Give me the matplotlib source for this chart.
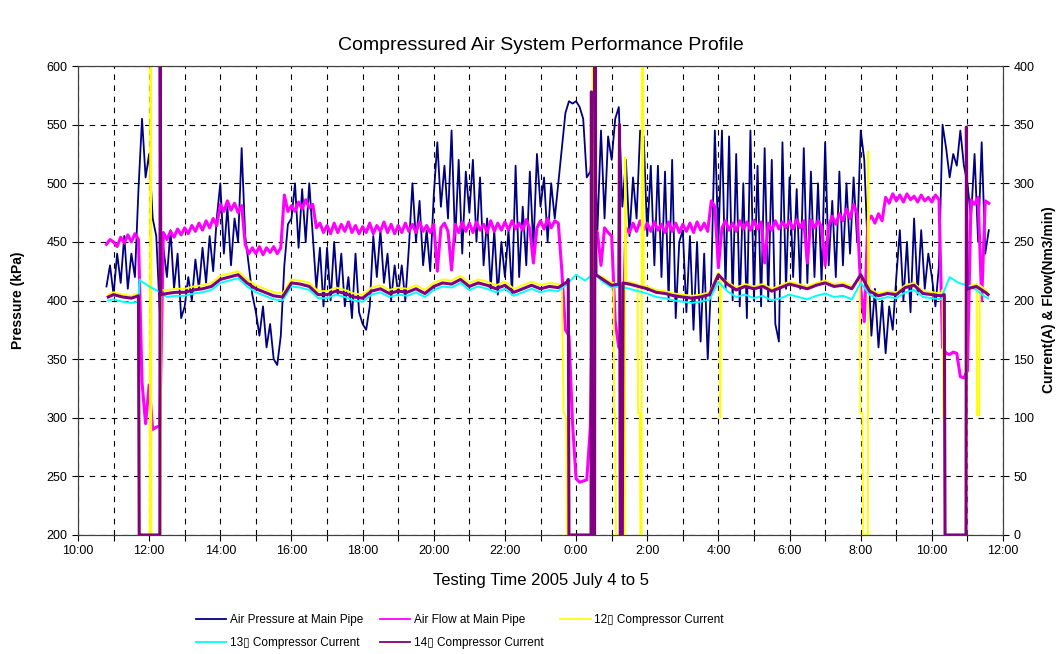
import numpy as np
import matplotlib
matplotlib.use('Agg')
import matplotlib.pyplot as plt
from matplotlib.lines import Line2D

plt.rcParams['font.family'] = ['Liberation Sans', 'DejaVu Sans']

# time in hours after 10:00 on July 4
tp = np.round(np.arange(0.8, 25.65, 0.1), 2)

# air pressure at main pipe (kPa), one value per 6 minutes
pressure = [412, 430,
    405, 440, 415, 455, 410, 440, 420, 495, 555, 505,
    525, 470, 455, 390, 445, 420, 460, 410, 440, 385,
    395, 420, 400, 435, 410, 445, 415, 455, 425, 470,
    500, 440, 480, 430, 470, 450, 530, 455, 430, 405,
    390, 370, 395, 360, 380, 350, 345, 370, 430, 465,
    470, 500, 445, 495, 450, 500, 455, 410, 445, 395,
    445, 400, 450, 405, 440, 395, 420, 385, 440, 390,
    380, 375, 395, 455, 420, 460, 415, 440, 400, 430,
    405, 430, 400, 445, 500, 450, 485, 430, 460, 425,
    490, 535, 480, 515, 470, 545, 450, 520, 440, 510,
    475, 520, 450, 505, 430, 470, 410, 460, 405, 450,
    420, 460, 405, 515, 420, 480, 430, 510, 445, 525,
    480, 505, 450, 500, 470, 500, 530, 560, 570, 568,
    570, 565, 555, 505, 510, 545, 460, 545, 470, 540,
    520, 555, 565, 480, 520, 455, 505, 470, 545, 540,
    455, 515, 430, 515, 420, 510, 400, 520, 385, 450,
    460, 390, 455, 375, 450, 365, 440, 350, 420, 545,
    450, 545, 410, 540, 400, 525, 395, 500, 385, 545,
    400, 515, 395, 530, 400, 520, 380, 365, 535, 410,
    505, 420, 495, 410, 530, 415, 510, 420, 500, 415,
    535, 430, 485, 420, 510, 430, 500, 440, 505, 450,
    545, 520, 440, 370, 410, 360, 400, 355, 395, 375,
    420, 460, 400, 450, 390, 470, 405, 460, 410, 440,
    420, 395, 430, 550, 530, 505, 525, 515, 545, 515,
    500, 470, 525, 450, 535, 440, 460]

# air flow at main pipe (Nm3/min), same time steps
flow = [248, 252,
    250, 246, 254, 249, 256, 250, 257, 252, 130, 95,
    128, 90, 92, 93, 258, 252, 259, 254, 261, 256,
    262, 257, 264, 259, 266, 260, 268, 262, 270, 264,
    282, 276, 285, 277, 283, 275, 281, 248, 240, 245,
    240, 246, 239, 245, 241, 246, 240, 245, 290, 276,
    281, 276, 284, 278, 286, 279, 282, 262, 266, 258,
    264, 257, 266, 258, 265, 259, 267, 258, 264, 257,
    263, 258, 266, 257, 264, 259, 267, 258, 265, 257,
    264, 258, 266, 259, 265, 258, 267, 259, 264, 258,
    265, 225, 262, 266, 259, 226, 265, 258, 267, 259,
    266, 258, 267, 260, 265, 258, 268, 259, 266, 260,
    267, 260, 268, 261, 266, 260, 269, 261, 232, 262,
    268, 261, 270, 262, 268, 266, 225, 175, 170, 95,
    48, 45, 46, 47, 92, 262, 258, 230, 262, 258,
    255, 182, 160, 158, 262, 258, 266, 259, 268, 260,
    266, 259, 267, 260, 265, 258, 267, 259, 266, 258,
    265, 259, 266, 258, 267, 260, 266, 259, 285, 280,
    228, 262, 268, 260, 266, 259, 268, 261, 267, 260,
    268, 261, 267, 232, 266, 260, 268, 261, 267, 262,
    268, 261, 269, 262, 268, 232, 269, 262, 268, 263,
    230, 264, 272, 265, 274, 268, 278, 270, 282, 274,
    210, 182, 268, 272, 266, 274, 268, 288, 283, 291,
    285, 290, 284, 291, 286, 289, 284, 290, 285, 288,
    284, 290, 286, 160, 155, 154, 156, 155, 135, 134,
    140, 286, 282, 288, 200, 285, 283]

# compressor currents (A), every 15 minutes from 11:00
tc = np.arange(1.0, 25.51, 0.25)
cur12 = [207, 205, 204, 0, 0, 0, 209, 210, 210, 212, 213, 215,
    221, 223, 225, 218, 213, 210, 207, 206, 218, 217, 215, 208,
    208, 211, 209, 206, 205, 211, 213, 209, 211, 210, 213, 209,
    215, 218, 217, 221, 215, 218, 216, 213, 216, 210, 213, 216,
    213, 215, 214, 0, 0, 0, 222, 220, 215, 0, 216, 104,
    212, 209, 208, 206, 205, 204, 205, 207, 224, 216, 211, 214,
    212, 214, 210, 213, 216, 214, 212, 215, 217, 214, 215, 212,
    104, 210, 206, 208, 207, 213, 215, 208, 207, 206, 0, 0,
    212, 214, 209]
cur13 = [201, 199, 198, 217, 212, 208, 203, 204, 204, 206, 207, 209,
    215, 217, 219, 212, 207, 204, 201, 200, 212, 211, 209, 202,
    202, 205, 203, 200, 199, 205, 207, 203, 205, 204, 207, 203,
    209, 212, 211, 215, 209, 212, 210, 207, 210, 204, 207, 210,
    207, 209, 208, 214, 222, 217, 223, 216, 211, 212, 210, 208,
    206, 203, 202, 200, 199, 198, 199, 201, 216, 208, 203, 205,
    202, 204, 200, 202, 205, 203, 201, 204, 206, 203, 204, 201,
    215, 205, 201, 203, 202, 207, 209, 203, 202, 201, 220, 215,
    213, 209, 203]
cur14 = [205, 203, 202, 0, 0, 0, 206, 207, 207, 209, 210, 212,
    218, 220, 222, 215, 210, 207, 204, 203, 215, 214, 212, 205,
    205, 208, 206, 203, 202, 208, 210, 206, 208, 207, 210, 206,
    212, 215, 214, 218, 212, 215, 213, 210, 213, 207, 210, 213,
    210, 212, 211, 216, 0, 0, 0, 218, 213, 0, 214, 212,
    210, 207, 206, 204, 203, 202, 203, 205, 222, 214, 209, 212,
    210, 212, 208, 211, 214, 212, 210, 213, 215, 212, 213, 210,
    222, 208, 204, 206, 205, 211, 213, 206, 205, 204, 0, 0,
    210, 212, 207]

# start/stop moments of the compressors (hour, current)
ev12_t = [0.85, 1.69, 1.70, 1.73, 1.74, 2.02, 2.03, 2.05, 2.06, 2.32, 2.34,
          13.6, 13.65, 13.72, 13.74, 14.455, 14.465, 14.49,
          15.05, 15.07, 15.10, 15.12, 15.37, 15.38, 15.41,
          15.73, 15.74, 15.79, 15.81, 15.84, 15.85, 15.88, 15.90,
          18.04, 18.05, 18.07, 21.97, 21.99, 22.05, 22.07, 22.20, 22.21, 22.24,
          24.30, 24.32, 24.35, 24.37, 24.97, 24.99,
          25.26, 25.27, 25.33, 25.35, 25.58]
ev12_v = [205, 206, 100, 100, 0, 0, 420, 420, 0, 0, 209,
          213, 105, 100, 0, 0, 420, 420,
          215, 104, 104, 0, 0, 322, 215,
          214, 104, 104, 0, 0, 420, 420, 212,
          221, 100, 219, 219, 104, 104, 0, 0, 327, 210,
          209, 100, 100, 0, 0, 212,
          214, 102, 102, 213, 207]
ev13_t = [0.85, 1.70, 1.73, 25.58]
ev13_v = [200, 199, 218, 202]
ev14_t = [0.85, 1.70, 1.72, 2.30, 2.31, 2.33,
          13.78, 13.80, 14.42, 14.43, 14.44, 14.52, 14.53, 14.56,
          15.20, 15.22, 15.24, 15.30, 15.32,
          24.35, 24.37, 24.96, 24.97, 24.99, 25.58]
ev14_v = [203, 204, 0, 0, 420, 205,
          218, 0, 0, 378, 0, 0, 420, 222,
          214, 350, 0, 0, 215,
          205, 0, 0, 348, 210, 205]


def merge(grid_v, ev_t, ev_v):
    t = np.concatenate([tc, ev_t])
    v = np.concatenate([grid_v, ev_v])
    order = np.argsort(t, kind='stable')
    return t[order], v[order]


fig = plt.figure(figsize=(10.64, 6.54), dpi=100)
ax1 = fig.add_axes([0.0733, 0.182, 0.8694, 0.717])
ax2 = ax1.twinx()

ax1.plot(tp, pressure, color='#000080', lw=1.3)
ax2.plot(tp, flow, color='#FF00FF', lw=2.2)
t12, v12 = merge(cur12, ev12_t, ev12_v)
t13, v13 = merge(cur13, ev13_t, ev13_v)
t14, v14 = merge(cur14, ev14_t, ev14_v)
ax2.plot(t12, v12, color='#FFFF00', lw=1.4)
ax2.plot(t13, v13, color='#00FFFF', lw=1.4)
ax2.plot(t14, v14, color='#800080', lw=2.2)

ax1.set_xlim(0, 26)
ax1.set_ylim(200, 600)
ax2.set_ylim(0, 400)
ax1.set_yticks(range(200, 601, 50))
ax2.set_yticks(range(0, 401, 50))
ax1.set_xticks(range(27))
ax1.set_xticklabels(['%d:00' % ((10 + h) % 24) if h % 2 == 0 else '' for h in range(27)])

ax1.grid(True, color='black', ls=(0, (5, 5)), lw=0.8)
for ax in (ax1, ax2):
    ax.tick_params(labelsize=9, length=4, direction='out')
    for s in ax.spines.values():
        s.set_color('#404040')

fig.text(0.508, 1 - 46 / 654, 'Compressured Air System Performance Profile',
         ha='center', va='center', fontsize=14)
fig.text(0.508, 1 - 580 / 654, 'Testing Time 2005 July 4 to 5',
         ha='center', va='center', fontsize=12)
fig.text(18 / 1064, 1 - 300 / 654, 'Pressure (kPa)', rotation=90,
         ha='center', va='center', fontsize=10, fontweight='bold')
fig.text(1049 / 1064, 1 - 300 / 654, 'Current(A) & Flow(Nm3/min)', rotation=90,
         ha='center', va='center', fontsize=10, fontweight='bold')

handles = [Line2D([], [], color='#000080', lw=1.3),
           Line2D([], [], color='#00FFFF', lw=1.3),
           Line2D([], [], color='#FF00FF', lw=1.3),
           Line2D([], [], color='#800080', lw=1.3),
           Line2D([], [], color='#FFFF00', lw=1.3)]
labels = ['Air Pressure at Main Pipe', '13\u25af Compressor Current',
          'Air Flow at Main Pipe', '14\u25af Compressor Current',
          '12\u25af Compressor Current']
fig.legend(handles, labels, ncol=3, loc='center', bbox_to_anchor=(0.432, 0.034),
           frameon=False, fontsize=8.5, handlelength=2.6, handletextpad=0.3,
           columnspacing=1.4, labelspacing=0.9)

fig.savefig('out.png', dpi=100)
